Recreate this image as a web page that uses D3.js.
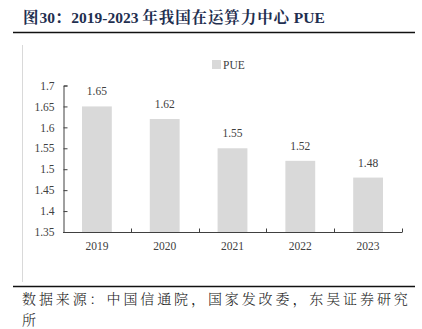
<!DOCTYPE html>
<html><head><meta charset="utf-8">
<script src="https://cdnjs.cloudflare.com/ajax/libs/d3/7.8.5/d3.min.js"></script>
<style>
html,body{margin:0;padding:0;background:#fff;}
svg{display:block;}
</style></head>
<body>
<svg id="c" width="422" height="329"></svg>
<script>
const categories = ["2019","2020","2021","2022","2023"];
const pueValues = [1.65,1.62,1.55,1.52,1.48];
const yTicks = [1.35,1.4,1.45,1.5,1.55,1.6,1.65,1.7];
const seriesName = "PUE";
const titleParts = [["图","cjk"],["30","serif"],["：","cjk"],["2019-2023 ","serif"],["年我国在运算力中心","cjk"],[" PUE","serif"]];
const sourceLines = ["数据来源：中国信通院，国家发改委，东吴证券研究","所"];

const svg = d3.select("#c");
const serif = "'Liberation Serif','Times New Roman',serif";
const cjk = "'Noto Serif CJK SC','Noto Sans CJK SC',sans-serif";

// title
const tt = svg.append("text").attr("x",23).attr("y",22.5)
  .attr("font-weight","bold").attr("font-size",15.5).attr("fill","#1f2f50");
titleParts.forEach(([t,f])=>{
  tt.append("tspan").attr("font-family",f==="cjk"?cjk:serif)
    .attr("letter-spacing",f==="cjk"?0.9:0).text(t);
});
svg.append("line").attr("x1",13).attr("x2",415).attr("y1",32.5).attr("y2",32.5)
  .attr("stroke","#111").attr("stroke-width",1.6);
// faint left frame line
svg.append("line").attr("x1",22.5).attr("x2",22.5).attr("y1",45).attr("y2",282)
  .attr("stroke","#d9d9d9").attr("stroke-width",1);
// bottom line
svg.append("line").attr("x1",13).attr("x2",415).attr("y1",286.5).attr("y2",286.5)
  .attr("stroke","#111").attr("stroke-width",1.6);
// source
sourceLines.forEach((t,i)=>{
  svg.append("text").attr("x",22).attr("y",304+i*21)
    .attr("font-family",cjk).attr("font-weight",300)
    .attr("font-size",14).attr("letter-spacing",2.9).attr("fill","#222").text(t);
});

const x = d3.scaleBand().domain(categories).range([63,402]).paddingInner(0.56).paddingOuter(0.28);
const y = d3.scaleLinear().domain([1.35,1.7]).range([232,85.5]);

const g = svg.append("g");
g.selectAll("rect.bar").data(pueValues).join("rect")
  .attr("x",(d,i)=>x(categories[i])).attr("width",x.bandwidth())
  .attr("y",d=>y(d)).attr("height",d=>y(1.35)-y(d)).attr("fill","#d9d9d9");
g.selectAll("text.lbl").data(pueValues).join("text")
  .attr("x",(d,i)=>x(categories[i])+x.bandwidth()/2).attr("y",d=>y(d)-11)
  .attr("text-anchor","middle").attr("font-family",serif).attr("font-size",11.5)
  .attr("fill","#404040").text(d=>d.toFixed(2));

// y axis
const ya = svg.append("g").attr("transform","translate(63.5,0)")
  .call(d3.axisLeft(y).tickValues(yTicks).tickSize(-4).tickPadding(9).tickFormat(d=>d3.format("")(+d.toFixed(2))));
ya.select(".domain").attr("stroke","#404040");
ya.selectAll(".tick line").attr("stroke","#404040");
ya.selectAll("text").attr("font-family",serif).attr("font-size",11.5).attr("fill","#404040");

// x axis
const xb = d3.scaleLinear().domain([0,categories.length]).range([63,402]);
const xa = svg.append("g").attr("transform","translate(0,232.5)");
xa.append("line").attr("x1",63).attr("x2",402).attr("stroke","#404040");
xa.selectAll("line.t").data(d3.range(1,categories.length+1)).join("line")
  .attr("x1",d=>Math.round(xb(d))+0.5).attr("x2",d=>Math.round(xb(d))+0.5).attr("y1",0).attr("y2",-4)
  .attr("stroke","#404040");
xa.selectAll("text").data(categories).join("text")
  .attr("x",d=>x(d)+x.bandwidth()/2).attr("y",17)
  .attr("text-anchor","middle").attr("font-family",serif).attr("font-size",11.5)
  .attr("fill","#404040").text(d=>d);

// legend
svg.append("rect").attr("x",212).attr("y",60).attr("width",9).attr("height",9).attr("fill","#d9d9d9");
svg.append("text").attr("x",223).attr("y",69).attr("font-family",serif).attr("font-size",11.5)
  .attr("fill","#404040").text(seriesName);
</script>
</body></html>
